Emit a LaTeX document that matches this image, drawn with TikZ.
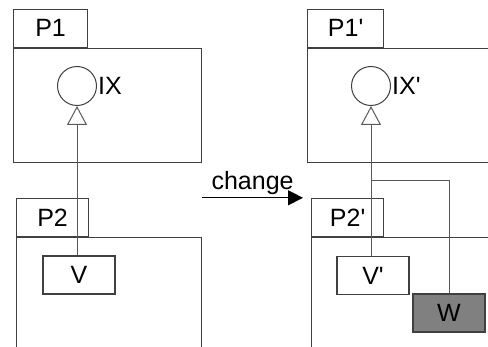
\documentclass[tikz,border=0pt]{standalone}
\usepackage{fontspec}
\setmainfont{Liberation Sans}[Ligatures=TeXOff]
\usetikzlibrary{arrows.meta, positioning}
\tikzset{
    pkg/.style={
        rectangle, draw=black!75, line width=1.2pt,
        anchor=north west, inner sep=0pt,
    },
    tab/.style={
        rectangle, draw=black!75, line width=1.2pt,
        anchor=south west, inner sep=0pt,
        minimum width=74pt, minimum height=38pt,
        font=\fontsize{25}{28}\selectfont,
    },
    unit/.style={
        rectangle, draw=black!75, line width=1.2pt, inner sep=0pt,
        minimum width=72pt, minimum height=38pt,
        font=\fontsize{25}{28}\selectfont,
    },
    iface/.style={
        circle, draw=black!75, line width=1pt,
        minimum size=39pt, inner sep=0pt,
    },
    ilabel/.style={inner sep=1pt, font=\fontsize{25}{28}\selectfont},
    realize/.style={-{Triangle[open, length=19pt, width=20pt]}, line width=1pt, draw=black!65},
    link/.style={line width=1pt, draw=black!65},
    flow/.style={-{Triangle[length=15pt, width=15pt]}, line width=1.2pt, draw=black},
}

\begin{document}
\begin{tikzpicture}[x=1pt, y=-1pt]

    \useasboundingbox (0,0) rectangle (488,347);
    \clip (0,0) rectangle (488,347);

    % before
    \node[pkg, minimum width=188pt, minimum height=114pt] (p1) at (13,48) {};
    \node[tab] (p1tab) at (p1.north west) {P1};
    \node[pkg, minimum width=185pt, minimum height=140pt] (p2) at (16,237) {};
    \node[tab, minimum width=72pt] (p2tab) at (p2.north west) {P2};

    \node[iface] (ix) at (77,86) {};
    \node[ilabel, right=0pt of ix] (ixlbl) {IX};
    \node[unit] (v) at (79,275) {V};

    \draw[realize] (v.north -| ix) -- (ix);

    % after
    \node[pkg, minimum width=200pt, minimum height=114pt] (p1p) at (307,48) {};
    \node[tab, minimum width=76pt] (p1ptab) at (p1p.north west) {P1'};
    \node[pkg, minimum width=200pt, minimum height=140pt] (p2p) at (311,237) {};
    \node[tab, minimum width=72pt] (p2ptab) at (p2p.north west) {P2'};

    \node[iface] (ixp) at (371,86) {};
    \node[ilabel, right=0pt of ixp] (ixplbl) {IX'};
    \node[unit] (vp) at (373,275.5) {V'};
    \node[unit, fill=black!50] (w) at (449,313) {W};
    \coordinate (fork) at (ixp |- 0,181);

    \draw[realize] (vp.north -| ixp) -- (ixp);
    \draw[link] (w.north) |- (fork);

    \draw[flow] (p1.east |- p2tab.north) -- ([xshift=-8pt]p2ptab.north west)
        node[midway, above=2pt, inner sep=1pt, font=\fontsize{25}{28}\selectfont] {change};

\end{tikzpicture}
\end{document}
